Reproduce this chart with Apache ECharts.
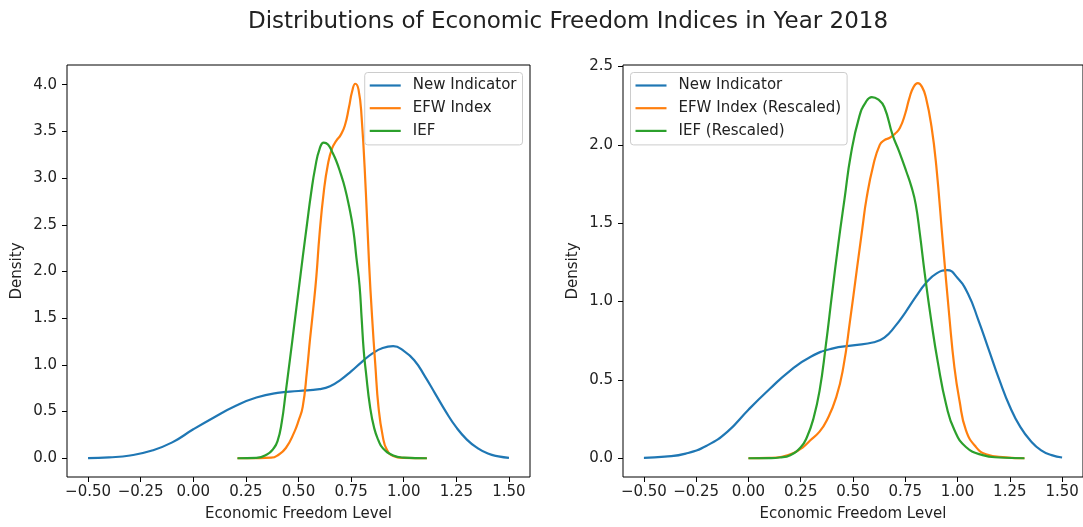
<!DOCTYPE html>
<html>
<head>
<meta charset="utf-8">
<title>Distributions of Economic Freedom Indices in Year 2018</title>
<script src="https://cdn.jsdelivr.net/npm/echarts@6/dist/echarts.min.js"></script>
<style>
  html, body { margin: 0; padding: 0; background: #fff; }
  #chart { width: 1083px; height: 527px; }
</style>
</head>
<body>
<div id="chart"></div>
<script>
// Kernel density estimates, sampled along the economic freedom level axis.
const newIndicatorX = [-0.5, -0.4, -0.3, -0.2, -0.1, 0, 0.1, 0.2, 0.3, 0.4, 0.5, 0.6, 0.65, 0.7, 0.75, 0.8, 0.85, 0.9, 0.95, 1.0, 1.05, 1.1, 1.15, 1.2, 1.25, 1.3, 1.35, 1.4, 1.45, 1.5];
const newIndicatorY = [0.002, 0.01, 0.03, 0.08, 0.17, 0.31, 0.44, 0.56, 0.65, 0.70, 0.72, 0.74, 0.77, 0.84, 0.93, 1.03, 1.12, 1.18, 1.20, 1.15, 1.05, 0.88, 0.69, 0.50, 0.33, 0.20, 0.11, 0.05, 0.02, 0.005];

const efwX = [0.21, 0.3, 0.37, 0.4, 0.44, 0.48, 0.5, 0.52, 0.54, 0.555, 0.57, 0.585, 0.6, 0.62, 0.64, 0.66, 0.68, 0.7, 0.72, 0.74, 0.755, 0.77, 0.785, 0.8, 0.82, 0.835, 0.85, 0.865, 0.88, 0.9, 0.92, 0.95, 1.0, 1.11];
const efwY = [0, 0.001, 0.006, 0.03, 0.11, 0.28, 0.4, 0.55, 0.93, 1.28, 1.6, 1.95, 2.4, 2.85, 3.15, 3.32, 3.4, 3.46, 3.56, 3.76, 3.93, 4.01, 3.95, 3.65, 2.85, 2.1, 1.5, 1.0, 0.55, 0.24, 0.09, 0.025, 0.004, 0];

const iefX = [0.21, 0.3, 0.35, 0.38, 0.4, 0.42, 0.44, 0.46, 0.48, 0.5, 0.52, 0.54, 0.56, 0.58, 0.6, 0.62, 0.64, 0.66, 0.68, 0.7, 0.72, 0.74, 0.76, 0.775, 0.79, 0.8, 0.81, 0.82, 0.84, 0.86, 0.88, 0.9, 0.95, 1.0, 1.11];
const iefY = [0, 0.005, 0.04, 0.1, 0.18, 0.38, 0.72, 1.07, 1.43, 1.79, 2.15, 2.5, 2.84, 3.12, 3.31, 3.38, 3.36, 3.28, 3.18, 3.05, 2.9, 2.7, 2.45, 2.15, 1.85, 1.5, 1.15, 0.93, 0.55, 0.32, 0.19, 0.11, 0.03, 0.007, 0];

const efwRescaledX = [0, 0.1, 0.16, 0.216, 0.26, 0.296, 0.34, 0.375, 0.42, 0.454, 0.486, 0.518, 0.545, 0.565, 0.597, 0.628, 0.65, 0.676, 0.7, 0.724, 0.75, 0.77, 0.79, 0.81, 0.83, 0.849, 0.875, 0.898, 0.93, 0.961, 0.985, 1.009, 1.04, 1.088, 1.136, 1.23, 1.32];
const efwRescaledY = [0, 0.002, 0.01, 0.034, 0.07, 0.115, 0.17, 0.243, 0.39, 0.583, 0.88, 1.2, 1.47, 1.66, 1.87, 2.0, 2.03, 2.045, 2.07, 2.107, 2.2, 2.3, 2.37, 2.394, 2.37, 2.3, 2.12, 1.87, 1.37, 0.90, 0.58, 0.37, 0.18, 0.072, 0.026, 0.006, 0];

const iefRescaledX = [0, 0.1, 0.15, 0.2, 0.25, 0.28, 0.31, 0.34, 0.37, 0.4, 0.43, 0.46, 0.49, 0.53, 0.56, 0.59, 0.62, 0.65, 0.69, 0.72, 0.755, 0.78, 0.8, 0.82, 0.843, 0.874, 0.906, 0.946, 0.985, 1.04, 1.12, 1.2, 1.32];
const iefRescaledY = [0, 0.001, 0.005, 0.02, 0.07, 0.136, 0.25, 0.43, 0.72, 1.05, 1.37, 1.66, 1.94, 2.18, 2.27, 2.305, 2.29, 2.24, 2.06, 1.96, 1.83, 1.73, 1.62, 1.43, 1.18, 0.88, 0.61, 0.34, 0.18, 0.072, 0.02, 0.005, 0];

// Tick positions
const xTicks = [-0.5, -0.25, 0, 0.25, 0.5, 0.75, 1.0, 1.25, 1.5];
const yTicksLeft = [0, 0.5, 1.0, 1.5, 2.0, 2.5, 3.0, 3.5, 4.0];
const yTicksRight = [0, 0.5, 1.0, 1.5, 2.0, 2.5];

const COLORS = { blue: '#1f77b4', orange: '#ff7f0e', green: '#2ca02c' };
const FONT = 'DejaVu Sans';
const TEXT = '#222';
const FS = 15;

function pairs(xs, ys) { return xs.map((x, i) => [x, ys[i]]); }
function fmt(v, d) { return (v < 0 ? '\u2212' : '') + Math.abs(v).toFixed(d); }

function xAxisFor(gridIndex) {
  return {
    type: 'value', gridIndex, min: -0.6, max: 1.6,
    name: 'Economic Freedom Level', nameLocation: 'middle', nameGap: 30,
    nameTextStyle: { fontFamily: FONT, fontSize: FS, color: TEXT },
    axisLine: { show: false, onZero: false },
    axisTick: { show: true, length: 5, lineStyle: { color: '#000', width: 1 }, customValues: xTicks },
    axisLabel: { margin: 8, fontFamily: FONT, fontSize: FS, color: TEXT, customValues: xTicks, formatter: v => fmt(v, 2) },
    splitLine: { show: false }
  };
}
function yAxisFor(gridIndex, min, max, ticks) {
  return {
    type: 'value', gridIndex, min, max,
    name: 'Density', nameLocation: 'middle', nameGap: 42, nameRotate: 90,
    nameTextStyle: { fontFamily: FONT, fontSize: FS, color: TEXT },
    axisLine: { show: false, onZero: false },
    axisTick: { show: true, length: 5, lineStyle: { color: '#000', width: 1 }, customValues: ticks },
    axisLabel: { margin: 10, fontFamily: FONT, fontSize: FS, color: TEXT, customValues: ticks, formatter: v => fmt(v, 1) },
    splitLine: { show: false }
  };
}
function lineSeries(name, color, data, axisIndex) {
  return {
    name, type: 'line', xAxisIndex: axisIndex, yAxisIndex: axisIndex,
    data, smooth: 0.5, showSymbol: false, symbol: 'none',
    lineStyle: { color, width: 2.2 }, itemStyle: { color }, silent: true
  };
}
function legendFor(pos, names) {
  return Object.assign({
    orient: 'vertical', top: 72.5, data: names,
    icon: 'rect', itemWidth: 31, itemHeight: 2.2, itemGap: 6.7,
    padding: [5, 6, 6, 5],
    backgroundColor: 'rgba(255,255,255,0.8)', borderColor: '#ccc', borderWidth: 1, borderRadius: 3,
    textStyle: { fontFamily: FONT, fontSize: FS, color: TEXT, lineHeight: 16, padding: [0, 0, 0, 7] },
    selectedMode: false
  }, pos);
}

const chart = echarts.init(document.getElementById('chart'), null, { renderer: 'canvas' });
chart.setOption({
  animation: false,
  backgroundColor: '#fff',
  title: {
    text: 'Distributions of Economic Freedom Indices in Year 2018',
    left: 563, top: 6, textAlign: 'center',
    textStyle: { fontFamily: FONT, fontSize: 23, fontWeight: 'normal', color: TEXT }
  },
  grid: [
    { left: 67, top: 65, width: 463, height: 412, show: true, borderColor: '#000', borderWidth: 1, backgroundColor: 'transparent' },
    { left: 623, top: 65, width: 463, height: 412, show: true, borderColor: '#000', borderWidth: 1, backgroundColor: 'transparent' }
  ],
  xAxis: [xAxisFor(0), xAxisFor(1)],
  yAxis: [yAxisFor(0, -0.2005, 4.2105, yTicksLeft), yAxisFor(1, -0.1195, 2.5095, yTicksRight)],
  legend: [
    legendFor({ right: 560.5 }, ['New Indicator', 'EFW Index', 'IEF']),
    legendFor({ left: 630.5 }, ['New Indicator', 'EFW Index (Rescaled)', 'IEF (Rescaled)'])
  ],
  series: [
    lineSeries('New Indicator', COLORS.blue, pairs(newIndicatorX, newIndicatorY), 0),
    lineSeries('EFW Index', COLORS.orange, pairs(efwX, efwY), 0),
    lineSeries('IEF', COLORS.green, pairs(iefX, iefY), 0),
    lineSeries('New Indicator', COLORS.blue, pairs(newIndicatorX, newIndicatorY), 1),
    lineSeries('EFW Index (Rescaled)', COLORS.orange, pairs(efwRescaledX, efwRescaledY), 1),
    lineSeries('IEF (Rescaled)', COLORS.green, pairs(iefRescaledX, iefRescaledY), 1)
  ]
});
</script>
</body>
</html>
